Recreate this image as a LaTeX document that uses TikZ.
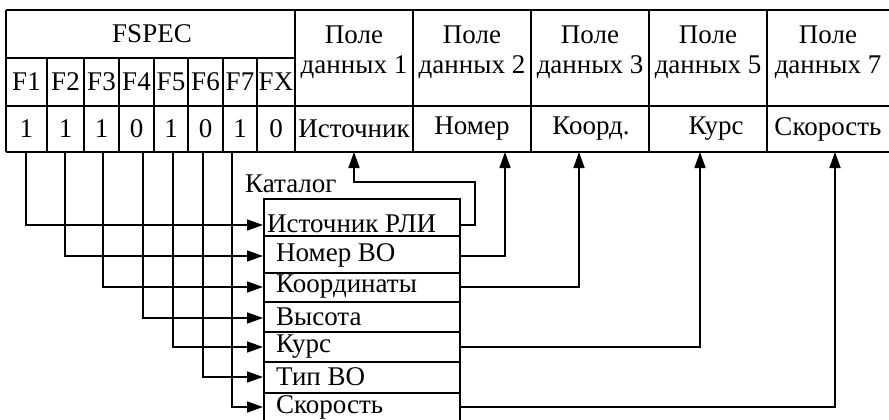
\documentclass[tikz,border=0pt]{standalone}
\usepackage{fontspec}
\setmainfont{Liberation Serif}
\usetikzlibrary{calc, positioning}
\usetikzlibrary{arrows.meta}
\tikzset{
  cell/.style={inner sep=0pt, anchor=center},
  grid/.style={line width=1.7pt},
  sep/.style={line width=1.3pt},
  link/.style={line width=1.7pt, -{Triangle[length=16pt, width=11pt]}},
}

\begin{document}
\begin{tikzpicture}[x=1pt, y=-1pt, font=\fontsize{27}{30}\selectfont]
    \useasboundingbox (0,0) rectangle (889,420);
    \def\yA{10}
    \def\yB{58}
    \def\yC{106}
    \def\yD{152}

    % FSPEC part of the record
    \node [cell] (fspec) at (152,34) {FSPEC};
    \foreach \i/\xl/\xr/\v in {1/6/47/1, 2/47/84/1, 3/84/119/1, 4/119/154/0, 5/154/188/1, 6/188/223/0, 7/223/257/1, X/257/295/0}{
        \node [cell] (f\i) at ({(\xl+\xr)/2},82) {F\i};
        \node [cell] (v\i) at ({(\xl+\xr)/2},129) {\v};
        \draw [grid] (\xr,\yB) -- (\xr,\yD);
    }

    % data fields
    % 1: id, 2: field no, 3: header x, 4: value x, 5: value text
    \foreach \i/\n/\xh/\xd/\t in {1/1/354/354/Источник, 2/2/472/472/Номер, 3/3/590/591/Коорд., 4/5/708/716/Курс, 5/7/828/828/Скорость}{
        \node [cell, align=center] (h\i) at (\xh,52) {Поле\\данных \n};
        \node [cell] (d\i) at (\xd,129) {\t};
    }

    % table grid
    \draw [grid] (6,\yA) -- (889,\yA);
    \draw [grid] (6,\yB) -- (295,\yB);
    \draw [grid] (6,\yC) -- (889,\yC);
    \draw [grid] (6,\yD) -- (889,\yD);
    \foreach \x in {6,295,413,531,649,767}{
        \draw [grid] (\x,\yA) -- (\x,\yD);
    }

    % catalog
    \node [inner sep=0pt, anchor=west] (cattitle) at (245,184) {Каталог};
    \node [draw, grid, inner sep=0pt, anchor=north west, minimum width=196pt, minimum height=223pt] (catbox) at (263,198) {};
    \foreach \y in {236,273,302,332,362,393}{
        \draw [sep] (263,\y) -- (459,\y);
    }
    \foreach \i/\y/\s/\t in {1/224/4/Источник РЛИ, 2/255/13/Номер ВО, 3/287/13/Координаты, 4/317/13/Высота, 5/347/13/Курс, 6/377/13/Тип ВО, 7/407/13/Скорость}{
        \node [inner sep=0pt, anchor=west, xshift=\s pt] (cat\i) at (263,\y) {\t};
    }

    % F bits -> catalog
    \foreach \i/\x/\y in {1/26/225, 2/65/256, 3/103/287, 4/143/318, 5/173/347, 6/203/377, 7/232/407}{
        \coordinate (src\i) at (\x,\yD);
        \draw [link] (src\i) |- (catbox.west |- 0,\y);
    }

    % catalog -> data fields
    \coordinate (dst1) at (354,\yD);
    \coordinate (dst2) at (505,\yD);
    \coordinate (dst3) at (579,\yD);
    \coordinate (dst4) at (700,\yD);
    \coordinate (dst5) at (835,\yD);
    \draw [link] (catbox.east |- 0,225) -- ++(14,0) |- (354,182) -- (dst1);
    \draw [link] (catbox.east |- 0,256) -| (dst2);
    \draw [link] (catbox.east |- 0,287) -| (dst3);
    \draw [link] (catbox.east |- 0,347) -| (dst4);
    \draw [link] (catbox.east |- 0,407) -| (dst5);
\end{tikzpicture}
\end{document}
